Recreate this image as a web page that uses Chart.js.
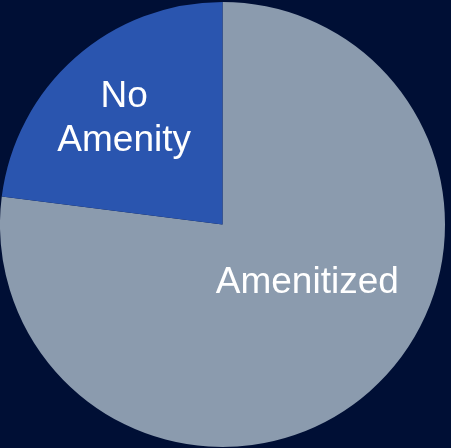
<!DOCTYPE html>
<html>
<head>
<meta charset="utf-8">
<title>Amenity share</title>
<script src="https://cdn.jsdelivr.net/npm/chart.js@4/dist/chart.umd.min.js"></script>
<style>
  html, body { margin: 0; padding: 0; background: #000F35; }
  #wrap { width: 451px; height: 448px; position: relative; }
</style>
</head>
<body>
<div id="wrap"><canvas id="pie"></canvas></div>
<script>
// Share of units, percent
const categories = ['Amenitized', 'No Amenity'];
const shares = [77, 23];
const sliceColors = ['#8B9BAE', '#2A55AF'];

// Label anchors as fractions of the pie radius, relative to its centre
const labelLines = [['Amenitized'], ['No', 'Amenity']];
const labelOffsets = [[0.381, 0.264], [-0.442, -0.474]];

const sliceLabels = {
  id: 'sliceLabels',
  afterDatasetsDraw(chart) {
    const ctx = chart.ctx;
    const meta = chart.getDatasetMeta(0);
    ctx.save();
    ctx.fillStyle = '#FFFFFF';
    ctx.font = '37px "Liberation Sans", Arial, sans-serif';
    ctx.textAlign = 'center';
    ctx.textBaseline = 'middle';
    meta.data.forEach((arc, i) => {
      const r = arc.outerRadius;
      const cx = arc.x + labelOffsets[i][0] * r;
      const cy = arc.y + labelOffsets[i][1] * r;
      const lines = labelLines[i];
      const lh = 44;
      lines.forEach((t, k) => {
        ctx.fillText(t, cx, cy + (k - (lines.length - 1) / 2) * lh);
      });
    });
    ctx.restore();
  }
};

new Chart(document.getElementById('pie'), {
  type: 'pie',
  data: {
    labels: categories,
    datasets: [{
      data: shares,
      backgroundColor: sliceColors,
      borderWidth: 0
    }]
  },
  options: {
    responsive: true,
    maintainAspectRatio: false,
    animation: false,
    layout: { padding: { top: 2, bottom: 1, left: 0, right: 6 } },
    plugins: {
      legend: { display: false },
      tooltip: { enabled: false }
    }
  },
  plugins: [sliceLabels]
});
</script>
</body>
</html>
